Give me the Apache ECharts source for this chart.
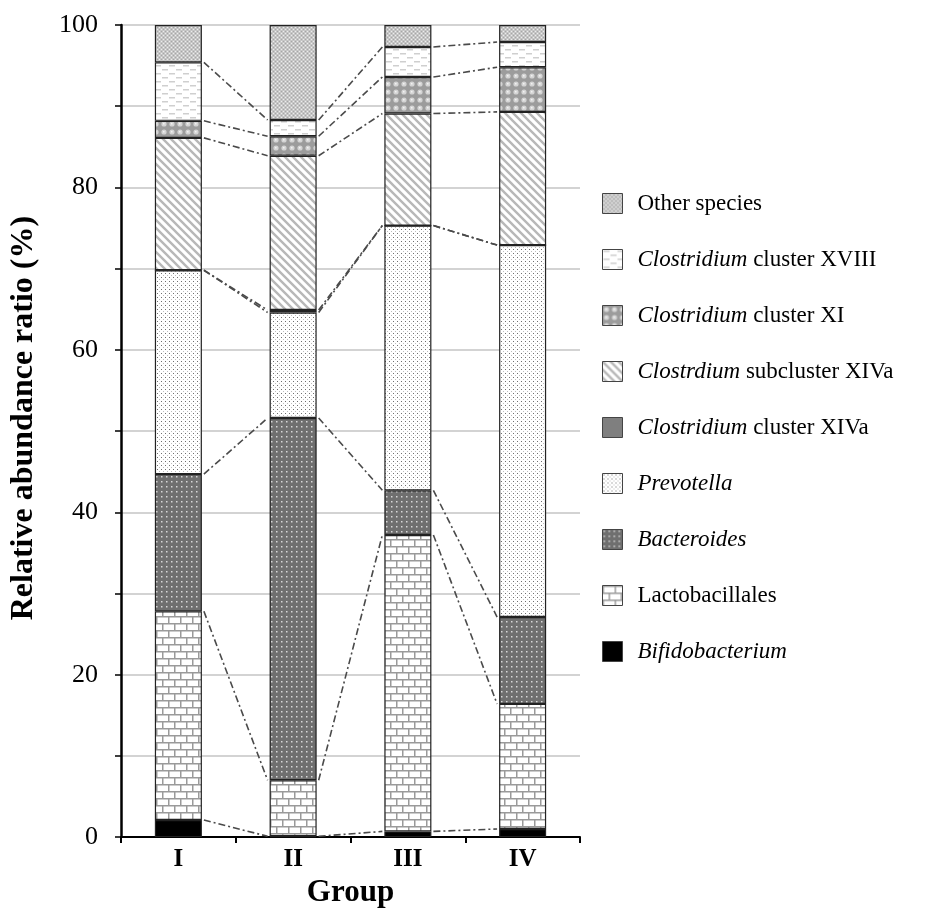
<!DOCTYPE html>
<html>
<head>
<meta charset="utf-8">
<script src="https://cdn.jsdelivr.net/npm/echarts@6/dist/echarts.min.js"></script>
<style>
  html, body { margin: 0; padding: 0; background: #fff; }
  #chart { width: 925px; height: 913px; }
</style>
</head>
<body>
<div id="chart"></div>
<script>
'use strict';

// groups on the x axis
const groups = ['I', 'II', 'III', 'IV'];

// stack order, bottom to top (values in %)
const bifidobacterium = [2.1, 0.1, 0.7, 1.0];
const lactobacillales = [25.7, 6.9, 36.5, 15.4];
const bacteroides = [16.9, 44.6, 5.5, 10.7];
const prevotella = [25.1, 13.0, 32.6, 45.8];
const clostridiumXIVa = [0, 0.3, 0, 0];
const clostridiumSubXIVa = [16.3, 19.0, 13.8, 16.4];
const clostridiumXI = [2.1, 2.4, 4.5, 5.5];
const clostridiumXVIII = [7.2, 2.0, 3.7, 3.1];
const otherSpecies = [4.6, 11.7, 2.7, 2.1];

const yTicks = [0, 20, 40, 60, 80, 100];

const FONT = 'Liberation Serif';

function makePattern(w, h, draw) {
    const c = document.createElement('canvas');
    c.width = w;
    c.height = h;
    const ctx = c.getContext('2d');
    draw(ctx);
    return { image: c, repeat: 'repeat' };
}

const pat = {
    other: makePattern(4, 4, function (ctx) {
        ctx.fillStyle = '#c6c6c6';
        ctx.fillRect(0, 0, 4, 4);
        ctx.fillStyle = '#ececec';
        ctx.fillRect(1, 1, 1, 1);
        ctx.fillRect(3, 3, 1, 1);
        ctx.fillStyle = '#a6a6a6';
        ctx.fillRect(1, 3, 1, 1);
        ctx.fillRect(3, 1, 1, 1);
    }),
    xviii: makePattern(14, 8, function (ctx) {
        ctx.fillStyle = '#fff';
        ctx.fillRect(0, 0, 14, 8);
        ctx.fillStyle = '#cfcfcf';
        ctx.fillRect(1, 1, 6, 1.5);
        ctx.fillRect(8, 5, 6, 1.5);
    }),
    xi: makePattern(8, 8, function (ctx) {
        ctx.fillStyle = '#9c9c9c';
        ctx.fillRect(0, 0, 8, 8);
        ctx.fillStyle = '#d4d4d4';
        ctx.beginPath();
        ctx.arc(4, 4, 2.6, 0, Math.PI * 2);
        ctx.fill();
        ctx.fillStyle = '#f2f2f2';
        ctx.fillRect(3, 3, 1.5, 1.5);
    }),
    sub: makePattern(8, 8, function (ctx) {
        ctx.fillStyle = '#fff';
        ctx.fillRect(0, 0, 8, 8);
        ctx.strokeStyle = '#b8b8b8';
        ctx.lineWidth = 2.4;
        ctx.beginPath();
        ctx.moveTo(-2, -2); ctx.lineTo(10, 10);
        ctx.moveTo(-6, 2); ctx.lineTo(2, 10);
        ctx.moveTo(6, -2); ctx.lineTo(10, 2);
        ctx.stroke();
    }),
    prev: makePattern(4, 4, function (ctx) {
        ctx.fillStyle = '#fff';
        ctx.fillRect(0, 0, 4, 4);
        ctx.fillStyle = '#6e6e6e';
        ctx.fillRect(1, 1, 1, 1);
        ctx.fillStyle = '#bdbdbd';
        ctx.fillRect(3, 3, 1, 1);
    }),
    bact: makePattern(5, 5, function (ctx) {
        ctx.fillStyle = '#6f6f6f';
        ctx.fillRect(0, 0, 5, 5);
        ctx.fillStyle = '#d8d8d8';
        ctx.fillRect(1, 1, 1.5, 1.5);
    }),
    lacto: makePattern(12, 14, function (ctx) {
        ctx.fillStyle = '#fff';
        ctx.fillRect(0, 0, 12, 14);
        ctx.fillStyle = '#9a9a9a';
        ctx.fillRect(0, 0, 12, 1.5);
        ctx.fillRect(0, 7, 12, 1.5);
        ctx.fillRect(0, 0, 1.5, 7);
        ctx.fillRect(6, 7, 1.5, 7);
    })
};

const seriesDefs = [
    { name: 'Bifidobacterium', data: bifidobacterium, color: '#000', rich: '{i|Bifidobacterium}' },
    { name: 'Lactobacillales', data: lactobacillales, color: pat.lacto, rich: 'Lactobacillales' },
    { name: 'Bacteroides', data: bacteroides, color: pat.bact, rich: '{i|Bacteroides}' },
    { name: 'Prevotella', data: prevotella, color: pat.prev, rich: '{i|Prevotella}' },
    { name: 'Clostridium cluster XIVa', data: clostridiumXIVa, color: '#7f7f7f', rich: '{i|Clostridium} cluster XIVa' },
    { name: 'Clostrdium subcluster XIVa', data: clostridiumSubXIVa, color: pat.sub, rich: '{i|Clostrdium} subcluster XIVa' },
    { name: 'Clostridium cluster XI', data: clostridiumXI, color: pat.xi, rich: '{i|Clostridium} cluster XI' },
    { name: 'Clostridium cluster XVIII', data: clostridiumXVIII, color: pat.xviii, rich: '{i|Clostridium} cluster XVIII' },
    { name: 'Other species', data: otherSpecies, color: pat.other, rich: 'Other species' }
];

const BAR_FRAC = 0.41;

// cumulative tops of each segment, per group
const cumulative = groups.map(function (g, gi) {
    let sum = 0;
    return seriesDefs.map(function (s) {
        sum += s.data[gi];
        return sum;
    });
});

// connector lines: [group index, top in this group, top in next group]
const connectors = [];
for (let gi = 0; gi < groups.length - 1; gi++) {
    for (let k = 0; k < seriesDefs.length - 1; k++) {
        connectors.push([gi, cumulative[gi][k], cumulative[gi + 1][k]]);
    }
}

const richNames = {};
seriesDefs.forEach(function (s) { richNames[s.name] = s.rich; });

const barSeries = seriesDefs.map(function (s) {
    return {
        name: s.name,
        type: 'bar',
        stack: 'total',
        barWidth: (BAR_FRAC * 100) + '%',
        data: s.data,
        itemStyle: { color: s.color, borderColor: '#222', borderWidth: 1.2 },
        emphasis: { disabled: true }
    };
});

const chart = echarts.init(document.getElementById('chart'));

chart.setOption({
    animation: false,
    backgroundColor: '#fff',
    grid: { left: 121, right: 345, top: 25, bottom: 74, containLabel: false },
    legend: {
        orient: 'vertical',
        left: 597,
        top: 187,
        itemWidth: 20,
        itemHeight: 20,
        itemGap: 33,
        icon: 'rect',
        selectedMode: false,
        data: seriesDefs.map(function (s) { return s.name; }).reverse(),
        formatter: function (name) { return '{g|}' + richNames[name]; },
        itemStyle: { borderColor: '#444', borderWidth: 1 },
        textStyle: {
            fontFamily: FONT,
            fontSize: 23,
            lineHeight: 21,
            color: '#000',
            rich: {
                g: { width: 10 },
                i: { fontFamily: FONT, fontSize: 23, lineHeight: 21, fontStyle: 'italic', color: '#000' }
            }
        }
    },
    xAxis: {
        type: 'category',
        data: groups,
        name: 'Group',
        nameLocation: 'middle',
        nameGap: 30,
        nameTextStyle: { fontFamily: FONT, fontSize: 31, fontWeight: 'bold', color: '#000' },
        axisLine: { lineStyle: { color: '#000', width: 2 } },
        axisTick: { show: true, length: 6, lineStyle: { color: '#000', width: 2 } },
        axisLabel: { fontFamily: FONT, fontSize: 25, fontWeight: 'bold', color: '#000', margin: 10 },
        splitLine: { show: false }
    },
    yAxis: {
        type: 'value',
        min: 0,
        max: 100,
        interval: 10,
        name: 'Relative abundance ratio (%)',
        nameLocation: 'middle',
        nameGap: 81,
        nameTextStyle: {
            fontFamily: FONT, fontSize: 32, fontWeight: 'bold', color: '#000',
            padding: [0, 0, 0, 26]
        },
        axisLine: { show: true, lineStyle: { color: '#000', width: 2.5 } },
        axisTick: { show: true, length: 6, lineStyle: { color: '#000', width: 1.5 } },
        axisLabel: {
            fontFamily: FONT,
            fontSize: 26,
            color: '#000',
            margin: 23,
            formatter: function (v) { return yTicks.indexOf(v) >= 0 ? String(v) : ''; }
        },
        splitLine: { show: true, lineStyle: { color: '#c4c4c4', width: 1.5 } }
    },
    series: barSeries.concat([{
        type: 'custom',
        name: 'connectors',
        silent: true,
        data: connectors,
        encode: { x: 0, y: [1, 2] },
        z: 1,
        renderItem: function (params, api) {
            const i = api.value(0);
            const p1 = api.coord([i, api.value(1)]);
            const p2 = api.coord([i + 1, api.value(2)]);
            const half = api.size([1, 0])[0] * BAR_FRAC / 2;
            return {
                type: 'line',
                shape: { x1: p1[0] + half + 2, y1: p1[1], x2: p2[0] - half - 2, y2: p2[1] },
                style: { stroke: '#4a4a4a', lineWidth: 1.6, lineDash: [7, 3, 2, 3] }
            };
        }
    }])
});
</script>
</body>
</html>
